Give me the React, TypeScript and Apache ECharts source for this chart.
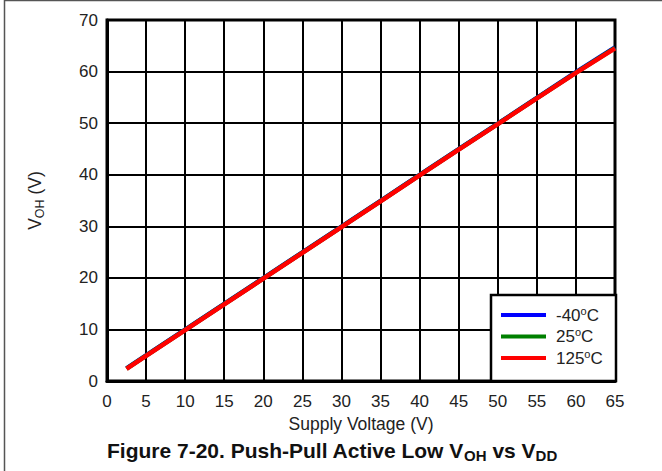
import React, { useEffect, useRef } from "react";
import * as echarts from "echarts";

const supplyVoltage = [2.5, 5, 10, 15, 20, 25, 30, 35, 40, 45, 50, 55, 60, 65];
const vohMinus40 = [2.45, 4.95, 9.95, 14.95, 19.95, 24.95, 29.95, 34.95, 39.95, 44.95, 49.9, 54.9, 59.9, 64.7];
const voh25 = [2.4, 4.9, 9.9, 14.9, 19.9, 24.9, 29.9, 34.9, 39.9, 44.9, 49.85, 54.85, 59.8, 64.6];
const voh125 = [2.35, 4.85, 9.85, 14.85, 19.85, 24.85, 29.85, 34.85, 39.85, 44.85, 49.8, 54.8, 59.75, 64.5];
const seriesNames = ["-40", "25", "125"];
const seriesColors = ["#0000ff", "#008000", "#ff0000"];
const xTicks = { min: 0, max: 65, interval: 5 };
const yTicks = { min: 0, max: 70, interval: 10 };

const FONT = "'Liberation Sans', Arial, sans-serif";

export default function App() {
  const ref = useRef<HTMLDivElement>(null);
  useEffect(() => {
    if (!ref.current) return;
    const chart = echarts.init(ref.current, null, { renderer: "svg" });
    const allData = [vohMinus40, voh25, voh125];
    chart.setOption({
      animation: false,
      backgroundColor: "#ffffff",
      grid: {
        left: 107,
        top: 20,
        right: 47,
        bottom: 90,
        show: true,
        borderColor: "#000",
        borderWidth: 3,
        backgroundColor: "transparent",
      },
      xAxis: {
        type: "value",
        min: xTicks.min,
        max: xTicks.max,
        interval: xTicks.interval,
        name: "Supply Voltage (V)",
        nameLocation: "middle",
        nameGap: 30,
        nameTextStyle: { fontFamily: FONT, fontSize: 17.5, color: "#222" },
        axisLine: { show: true, lineStyle: { color: "#000", width: 3 } },
        axisTick: { show: false },
        axisLabel: { fontFamily: FONT, fontSize: 17, color: "#222", margin: 12 },
        splitLine: { show: true, lineStyle: { color: "#000", width: 2 } },
      },
      yAxis: {
        type: "value",
        min: yTicks.min,
        max: yTicks.max,
        interval: yTicks.interval,
        name: "V{sub|OH} (V)",
        nameLocation: "middle",
        nameGap: 61,
        nameTextStyle: {
          fontFamily: FONT,
          fontSize: 17.5,
          color: "#222",
          rich: {
            sub: { fontFamily: FONT, fontSize: 12.5, color: "#222", padding: [9, 0, 0, 0] },
          },
        },
        axisLine: { show: true, lineStyle: { color: "#000", width: 3 } },
        axisTick: { show: false },
        axisLabel: { fontFamily: FONT, fontSize: 17, color: "#222", margin: 9 },
        splitLine: { show: true, lineStyle: { color: "#000", width: 2 } },
      },
      legend: {
        orient: "vertical",
        left: 501,
        top: 305,
        z: 20,
        itemWidth: 45,
        itemHeight: 4,
        itemGap: 1.5,
        icon: "rect",
        padding: 0,
        data: seriesNames,
        formatter: (name: string) => `${name}{sup|o}C`,
        textStyle: {
          fontFamily: FONT,
          fontSize: 17,
          color: "#222",
          lineHeight: 20,
          padding: [0, 0, 0, 5],
          rich: {
            sup: {
              fontFamily: FONT,
              fontSize: 11,
              color: "#222",
              lineHeight: 11,
              verticalAlign: "top",
            },
          },
        },
      },
      graphic: [
        {
          type: "line",
          shape: { x1: 4, y1: 0.5, x2: 662, y2: 0.5 },
          style: { stroke: "#555", lineWidth: 1.5 },
        },
        {
          type: "line",
          shape: { x1: 4.5, y1: 0, x2: 4.5, y2: 471 },
          style: { stroke: "#555", lineWidth: 1.5 },
        },
        {
          type: "rect",
          z: 15,
          shape: { x: 491, y: 295, width: 125, height: 86 },
          style: { fill: "#fff", stroke: "#000", lineWidth: 2.5 },
        },
        {
          type: "text",
          left: 107,
          top: 440,
          style: {
            text: "Figure 7-20. Push-Pull Active Low V{sub|OH} vs V{sub|DD}",
            fontFamily: FONT,
            fontSize: 21,
            fontWeight: "bold",
            fill: "#111",
            rich: {
              sub: {
                fontFamily: FONT,
                fontSize: 15,
                fontWeight: "bold",
                fill: "#111",
                padding: [10, 0, 0, 0],
              },
            },
          },
        },
      ],
      series: seriesNames.map((name, i) => ({
        name,
        type: "line",
        data: supplyVoltage.map((x, j) => [x, allData[i][j]]),
        showSymbol: false,
        symbol: "none",
        lineStyle: { color: seriesColors[i], width: 4.5 },
        itemStyle: { color: seriesColors[i] },
        z: 3 + i,
      })),
    });
    return () => chart.dispose();
  }, []);
  return (
    <div
      ref={ref}
      style={{ position: "fixed", left: 0, top: 0, width: 662, height: 471 }}
    />
  );
}
